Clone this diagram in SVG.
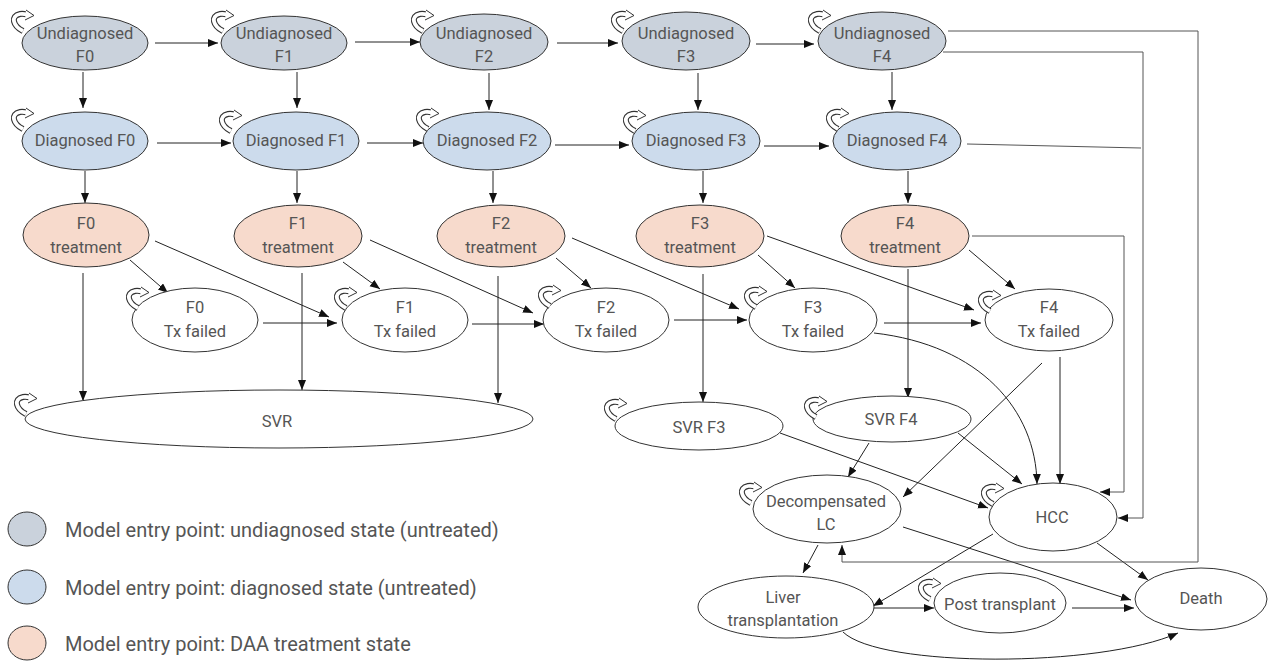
<svg xmlns="http://www.w3.org/2000/svg" xmlns:xlink="http://www.w3.org/1999/xlink" width="1272" height="662" viewBox="0 0 1272 662">
<style>
.n{stroke:#333;stroke-width:1}
.u{fill:#CAD2DC}
.d{fill:#CCDBEC}
.t{fill:#F7DACC}
.w{fill:#fff}
text{font-family:Roboto,"Noto Sans","DejaVu Sans",sans-serif;font-weight:400;font-size:16.5px;fill:#555;text-anchor:middle}
.lg{font-size:20px;text-anchor:start}
.c line,.c path{stroke:#222;stroke-width:1;fill:none}
.c .g{stroke:#555}
</style>
<defs>
<marker id="a" markerUnits="userSpaceOnUse" markerWidth="11" markerHeight="9" refX="10" refY="4" orient="auto">
<path d="M0,0 L10,4 L0,8 z" fill="#111"/>
</marker>
<g id="loop">
<path d="M13,21 C3,16 0,6 10,4 C13,3.5 15,4 17,4.5" fill="none" stroke="#333" stroke-width="6"/>
<path d="M13,21 C3,16 0,6 10,4 C13,3.5 15,4 17,4.5" fill="none" stroke="#fff" stroke-width="3.8"/>
<path d="M16,0 L24,5.5 L15,10" fill="#fff" stroke="#333" stroke-width="1"/>
</g>
</defs>
<rect width="1272" height="662" fill="#fff"/>
<g id="connectors" class="c">
<line x1="155" y1="43" x2="218" y2="43" marker-end="url(#a)"/>
<line x1="355" y1="42" x2="420" y2="42" marker-end="url(#a)"/>
<line x1="557" y1="43" x2="618" y2="43" marker-end="url(#a)"/>
<line x1="756" y1="44" x2="814" y2="44" marker-end="url(#a)"/>
<line x1="83" y1="72" x2="83" y2="108" marker-end="url(#a)"/>
<line x1="297" y1="72" x2="297" y2="108" marker-end="url(#a)"/>
<line x1="489" y1="73" x2="489" y2="110" marker-end="url(#a)"/>
<line x1="698" y1="73" x2="698" y2="110" marker-end="url(#a)"/>
<line x1="892" y1="72" x2="892" y2="110" marker-end="url(#a)"/>
<line x1="157" y1="143" x2="231" y2="143" marker-end="url(#a)"/>
<line x1="367" y1="143" x2="423" y2="143" marker-end="url(#a)"/>
<line x1="555" y1="145" x2="629" y2="145" marker-end="url(#a)"/>
<line x1="764" y1="146" x2="829" y2="146" marker-end="url(#a)"/>
<line x1="85" y1="171" x2="85" y2="203" marker-end="url(#a)"/>
<line x1="297" y1="171" x2="297" y2="203" marker-end="url(#a)"/>
<line x1="493" y1="171" x2="493" y2="203" marker-end="url(#a)"/>
<line x1="703" y1="171" x2="703" y2="203" marker-end="url(#a)"/>
<line x1="908" y1="171" x2="908" y2="203" marker-end="url(#a)"/>
<line x1="130" y1="260" x2="168" y2="293" marker-end="url(#a)"/>
<line x1="343" y1="262" x2="380" y2="289" marker-end="url(#a)"/>
<line x1="556" y1="258" x2="591" y2="288" marker-end="url(#a)"/>
<line x1="758" y1="255" x2="795" y2="288" marker-end="url(#a)"/>
<line x1="969" y1="250" x2="1015" y2="289" marker-end="url(#a)"/>
<line x1="155" y1="241" x2="329" y2="317" marker-end="url(#a)"/>
<line x1="370" y1="240" x2="533" y2="313" marker-end="url(#a)"/>
<line x1="572" y1="238" x2="739" y2="309" marker-end="url(#a)"/>
<line x1="767" y1="236" x2="974" y2="310" marker-end="url(#a)"/>
<line x1="263" y1="323" x2="337" y2="323" marker-end="url(#a)"/>
<line x1="472" y1="324" x2="544" y2="324" marker-end="url(#a)"/>
<line x1="674" y1="320" x2="747" y2="320" marker-end="url(#a)"/>
<line x1="884" y1="323" x2="981" y2="323" marker-end="url(#a)"/>
<line x1="83" y1="273" x2="83" y2="401" marker-end="url(#a)"/>
<line x1="302" y1="273" x2="302" y2="390" marker-end="url(#a)"/>
<line x1="498" y1="276" x2="498" y2="403" marker-end="url(#a)"/>
<line x1="703" y1="274" x2="703" y2="402" marker-end="url(#a)"/>
<line x1="908" y1="269" x2="908" y2="398" marker-end="url(#a)"/>
<path d="M874,333 C980,345 1036,410 1037,484" marker-end="url(#a)"/>
<line x1="1042" y1="363" x2="903" y2="497" marker-end="url(#a)"/>
<line x1="1060" y1="357" x2="1060" y2="484" marker-end="url(#a)"/>
<line x1="780" y1="433" x2="988" y2="508" marker-end="url(#a)"/>
<line x1="869" y1="443" x2="848" y2="477" marker-end="url(#a)"/>
<line x1="958" y1="433" x2="1022" y2="484" marker-end="url(#a)"/>
<line x1="903" y1="527" x2="1131" y2="600" marker-end="url(#a)"/>
<line x1="818" y1="545" x2="803" y2="573" marker-end="url(#a)"/>
<line x1="993" y1="534" x2="873" y2="606" marker-end="url(#a)"/>
<line x1="1097" y1="543" x2="1148" y2="580" marker-end="url(#a)"/>
<line x1="873" y1="608" x2="934" y2="608" marker-end="url(#a)"/>
<line x1="1072" y1="608" x2="1134" y2="608" marker-end="url(#a)"/>
<path d="M843,632 C880,668 1100,668 1178,633" marker-end="url(#a)"/>
<path class="g" d="M943,52 L1143,52 L1143,518 L1118,518" marker-end="url(#a)"/>
<path class="g" d="M967,144 L1141,148"/>
<path class="g" d="M948,31 L1198,31 L1198,562 L842,562 L842,545" marker-end="url(#a)"/>
<path class="g" d="M972,236 L1124,236 L1124,492 L1100,492" marker-end="url(#a)"/>
</g>
<g id="undiag-f0"><ellipse class="n u" cx="85" cy="43" rx="63" ry="27"/><use href="#loop" x="10" y="10"/><text x="85" y="39">Undiagnosed</text><text x="85" y="62">F0</text></g>
<g id="undiag-f1"><ellipse class="n u" cx="284" cy="43" rx="63" ry="27"/><use href="#loop" x="210" y="10"/><text x="284" y="39">Undiagnosed</text><text x="284" y="62">F1</text></g>
<g id="undiag-f2"><ellipse class="n u" cx="484" cy="42" rx="64" ry="28"/><use href="#loop" x="410" y="10"/><text x="484" y="39">Undiagnosed</text><text x="484" y="62">F2</text></g>
<g id="undiag-f3"><ellipse class="n u" cx="686" cy="41" rx="64" ry="29"/><use href="#loop" x="610" y="10"/><text x="686" y="39">Undiagnosed</text><text x="686" y="62">F3</text></g>
<g id="undiag-f4"><ellipse class="n u" cx="882" cy="41" rx="64" ry="29"/><use href="#loop" x="807" y="10"/><text x="882" y="39">Undiagnosed</text><text x="882" y="62">F4</text></g>
<g id="diag-f0"><ellipse class="n d" cx="85" cy="141" rx="63" ry="29"/><use href="#loop" x="10" y="108"/><text x="85" y="146">Diagnosed F0</text></g>
<g id="diag-f1"><ellipse class="n d" cx="296" cy="141" rx="63" ry="29"/><use href="#loop" x="218" y="110"/><text x="296" y="146">Diagnosed F1</text></g>
<g id="diag-f2"><ellipse class="n d" cx="487" cy="141" rx="64" ry="29"/><use href="#loop" x="415" y="108"/><text x="487" y="146">Diagnosed F2</text></g>
<g id="diag-f3"><ellipse class="n d" cx="696" cy="141" rx="64" ry="29"/><use href="#loop" x="622" y="110"/><text x="696" y="146">Diagnosed F3</text></g>
<g id="diag-f4"><ellipse class="n d" cx="897" cy="141" rx="64" ry="29"/><use href="#loop" x="825" y="108"/><text x="897" y="146">Diagnosed F4</text></g>
<g id="tx-f0"><ellipse class="n t" cx="86" cy="235" rx="63" ry="32"/><text x="86" y="229">F0</text><text x="86" y="253">treatment</text></g>
<g id="tx-f1"><ellipse class="n t" cx="298" cy="236" rx="64" ry="31"/><text x="298" y="229">F1</text><text x="298" y="253">treatment</text></g>
<g id="tx-f2"><ellipse class="n t" cx="501" cy="236" rx="64" ry="31"/><text x="501" y="229">F2</text><text x="501" y="253">treatment</text></g>
<g id="tx-f3"><ellipse class="n t" cx="700" cy="236" rx="64" ry="31"/><text x="700" y="229">F3</text><text x="700" y="253">treatment</text></g>
<g id="tx-f4"><ellipse class="n t" cx="905" cy="236" rx="64" ry="31"/><text x="905" y="229">F4</text><text x="905" y="253">treatment</text></g>
<g id="fail-f0"><ellipse class="n w" cx="195" cy="320" rx="63" ry="32"/><use href="#loop" x="125" y="287"/><text x="195" y="313">F0</text><text x="195" y="337">Tx failed</text></g>
<g id="fail-f1"><ellipse class="n w" cx="405" cy="320" rx="63" ry="32"/><use href="#loop" x="333" y="287"/><text x="405" y="313">F1</text><text x="405" y="337">Tx failed</text></g>
<g id="fail-f2"><ellipse class="n w" cx="606" cy="320" rx="63" ry="32"/><use href="#loop" x="537" y="285"/><text x="606" y="313">F2</text><text x="606" y="337">Tx failed</text></g>
<g id="fail-f3"><ellipse class="n w" cx="813" cy="320" rx="64" ry="32"/><use href="#loop" x="743" y="286"/><text x="813" y="313">F3</text><text x="813" y="337">Tx failed</text></g>
<g id="fail-f4"><ellipse class="n w" cx="1049" cy="320" rx="64" ry="31"/><use href="#loop" x="977" y="290"/><text x="1049" y="313">F4</text><text x="1049" y="337">Tx failed</text></g>
<g id="svr"><ellipse class="n w" cx="279" cy="419" rx="254" ry="29"/><use href="#loop" x="13" y="393"/><text x="277" y="427">SVR</text></g>
<g id="svr-f3"><ellipse class="n w" cx="699" cy="426" rx="84" ry="24"/><use href="#loop" x="603" y="398"/><text x="699" y="433">SVR F3</text></g>
<g id="svr-f4"><ellipse class="n w" cx="892" cy="419" rx="79" ry="23"/><use href="#loop" x="803" y="396"/><text x="891" y="425">SVR F4</text></g>
<g id="decomp"><ellipse class="n w" cx="827" cy="509" rx="74" ry="34"/><use href="#loop" x="738" y="482"/><text x="826" y="507">Decompensated</text><text x="826" y="530">LC</text></g>
<g id="hcc"><ellipse class="n w" cx="1053" cy="517" rx="64" ry="34"/><use href="#loop" x="980" y="483"/><text x="1052" y="523">HCC</text></g>
<g id="liver-tx"><ellipse class="n w" cx="786" cy="607" rx="88" ry="31"/><text x="783" y="603">Liver</text><text x="783" y="626">transplantation</text></g>
<g id="post-tx"><ellipse class="n w" cx="1000" cy="603" rx="66" ry="30"/><use href="#loop" x="917" y="578"/><text x="1000" y="610">Post transplant</text></g>
<g id="death"><ellipse class="n w" cx="1201" cy="599" rx="66" ry="31"/><text x="1201" y="604">Death</text></g>
<g id="legend">
<ellipse class="n u" cx="27" cy="529" rx="19" ry="17"/>
<text class="lg" x="65" y="537">Model entry point: undiagnosed state (untreated)</text>
<ellipse class="n d" cx="27" cy="587" rx="19" ry="17"/>
<text class="lg" x="65" y="595">Model entry point: diagnosed state (untreated)</text>
<ellipse class="n t" cx="27" cy="643" rx="19" ry="17"/>
<text class="lg" x="65" y="651">Model entry point: DAA treatment state</text>
</g>
</svg>
